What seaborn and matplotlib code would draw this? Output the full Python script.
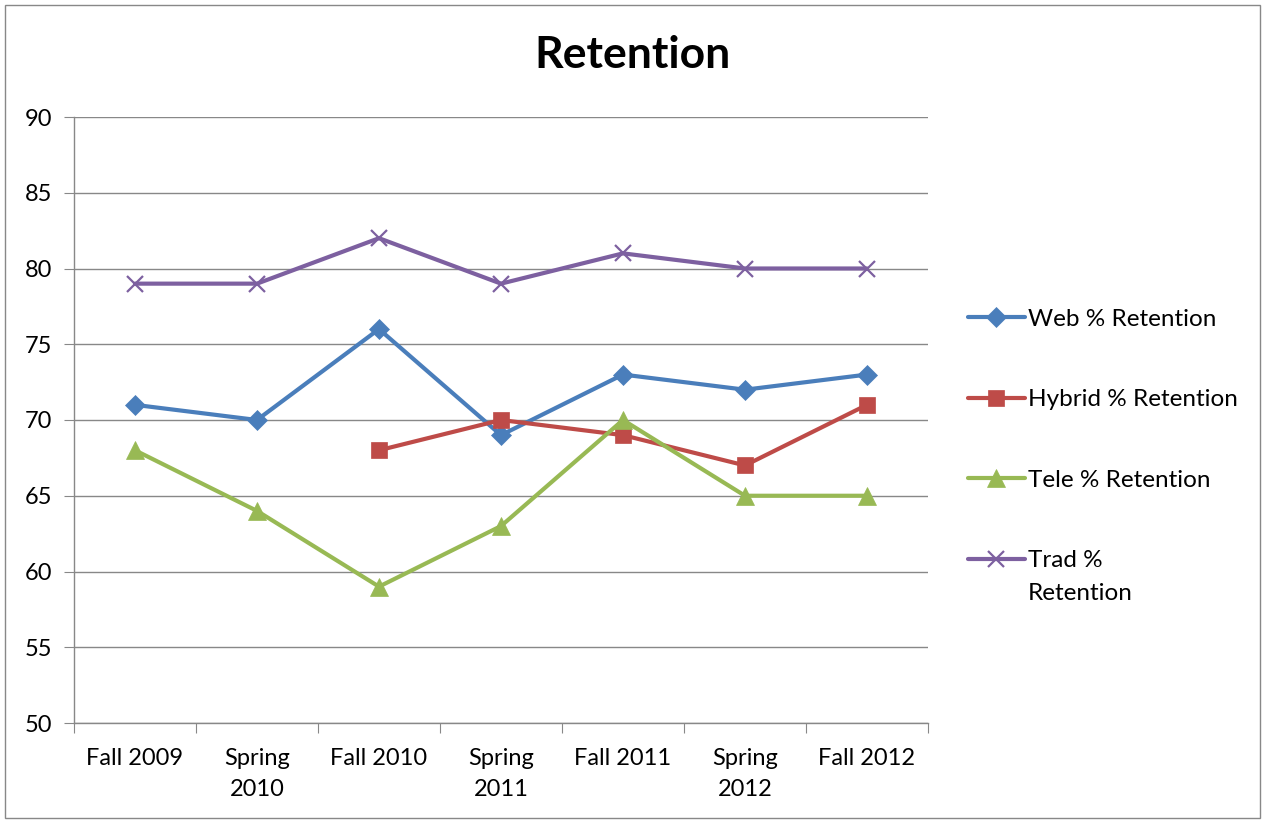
import numpy as np
import pandas as pd
import seaborn as sns
import matplotlib.pyplot as plt
from matplotlib.patches import Rectangle

# dati
terms = ["Fall 2009", "Spring\n2010", "Fall 2010", "Spring\n2011", "Fall 2011", "Spring\n2012", "Fall 2012"]
web = [71, 70, 76, 69, 73, 72, 73]
hybrid = [np.nan, np.nan, 68, 70, 69, 67, 71]
tele = [68, 64, 59, 63, 70, 65, 65]
trad = [79, 79, 82, 79, 81, 80, 80]

series = [
    ("Web % Retention", web, "#4A7EBB", "D", 10),
    ("Hybrid % Retention", hybrid, "#BE4B48", "s", 12),
    ("Tele % Retention", tele, "#98B954", "^", 13),
    ("Trad %", trad, "#7D60A0", "x", 12),
]

sns.set_style("white")
plt.rcParams['font.family'] = ['Lato', 'DejaVu Sans']
plt.rcParams['text.color'] = 'black'
plt.rcParams['xtick.color'] = 'black'
plt.rcParams['ytick.color'] = 'black'

fig = plt.figure(figsize=(12.65, 8.23), dpi=100)
ax = fig.add_axes([74 / 1265, 1 - 723 / 823, (928 - 74) / 1265, (723 - 117) / 823])

x = np.arange(len(terms))
for name, vals, col, mk, ms in series:
    df = pd.DataFrame({"x": x, "y": vals}).dropna()
    sns.lineplot(data=df, x="x", y="y", ax=ax, color=col, linewidth=3,
                 marker=mk, markersize=ms, markeredgecolor=col,
                 markeredgewidth=1.6 if mk == "x" else 0.5, label=name)

ax.set_xlim(-0.5, 6.5)
ax.set_ylim(50, 90)
ax.set_yticks(range(50, 91, 5))
ax.yaxis.grid(True, color="#888888", linewidth=1)
ax.set_axisbelow(True)

# tacche tra le categorie, etichette al centro
ax.set_xticks(np.arange(-0.5, 7, 1))
ax.set_xticklabels([])
ax.set_xticks(x, minor=True)
ax.set_xticklabels(terms, minor=True, fontsize=17, linespacing=1.56)
ax.tick_params(axis="x", which="major", length=7, color="#888888", direction="out", bottom=True)
ax.tick_params(axis="x", which="minor", length=0, pad=18)
ax.tick_params(axis="y", length=7, color="#888888", direction="out", left=True, labelsize=17, pad=9)
ax.set_xlabel("")
ax.set_ylabel("")

for side in ["top", "right"]:
    ax.spines[side].set_visible(False)
for side in ["left", "bottom"]:
    ax.spines[side].set_color("#888888")
    ax.spines[side].set_linewidth(1)

leg = ax.legend(loc="upper left", bbox_to_anchor=(1.021, 0.72), frameon=False,
                fontsize=17.5, handlelength=2.35, labelspacing=2.45, handletextpad=0.12)

fig.text(0.5, 1 - 55 / 823, "Retention", ha="center", va="center", fontsize=32, fontweight="bold")

# seconda riga dell'ultima voce della legenda, sotto "Trad %"
fig.canvas.draw()
bb = leg.get_texts()[3].get_window_extent()
fig.text(bb.x0 / 1265, (bb.y0 - 12) / 823, "Retention", ha="left", va="top", fontsize=17.5)

fig.patches.append(Rectangle((5 / 1265, 5 / 823), 1255 / 1265, 813 / 823, transform=fig.transFigure,
                             fill=False, edgecolor="#888888", linewidth=1))

fig.savefig("out.png", dpi=100)
